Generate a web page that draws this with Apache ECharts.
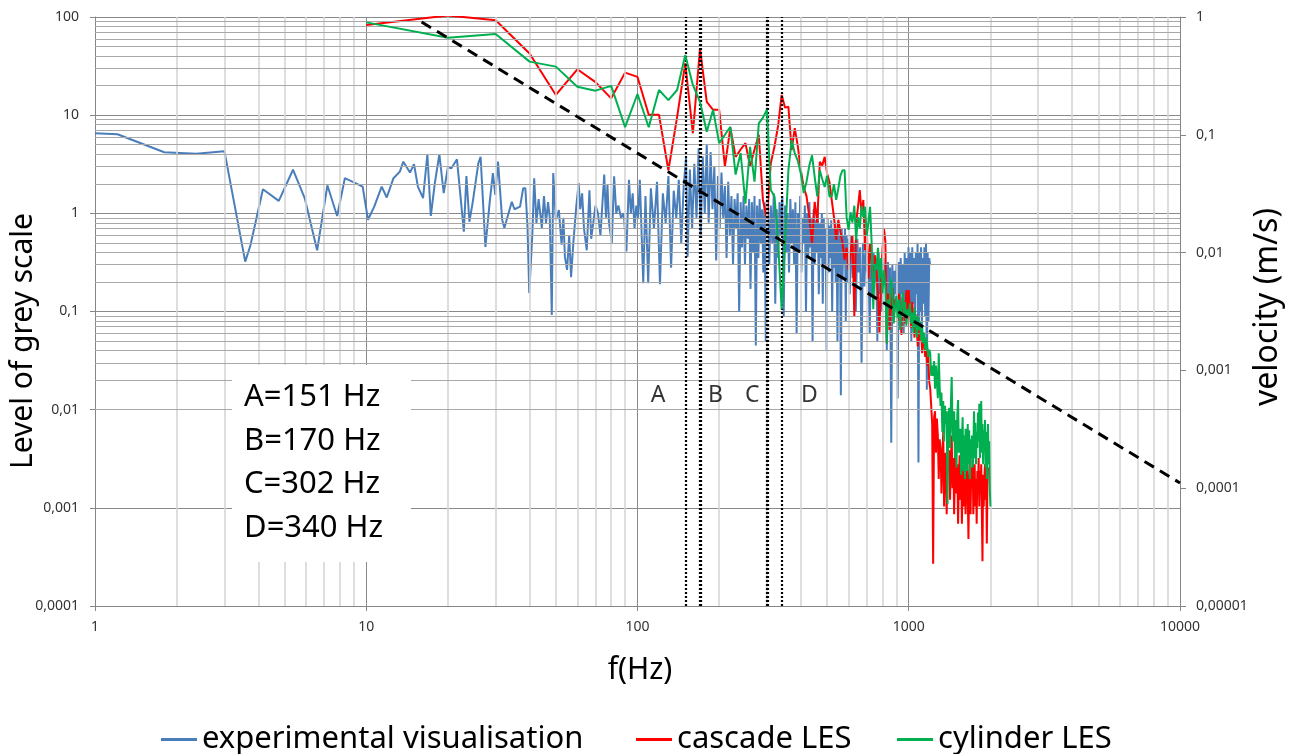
<!DOCTYPE html>
<html>
<head>
<meta charset="utf-8">
<script src="https://cdn.jsdelivr.net/npm/echarts@6/dist/echarts.min.js"></script>
<style>
html, body { margin: 0; padding: 0; background: #fff; }
#main { width: 1295px; height: 754px; }
</style>
</head>
<body>
<div id="main"></div>
<script>
// tick labels (comma decimals, as in the original)
var xTickLabels = ['1', '10', '100', '1000', '10000'];
var leftTickLabels = ['0,0001', '0,001', '0,01', '0,1', '1', '10', '100'];   // 1e-4 .. 1e2
var rightTickLabels = ['0,00001', '0,0001', '0,001', '0,01', '0,1', '1'];    // 1e-5 .. 1e0

var seriesNames = ['experimental visualisation', 'cascade LES', 'cylinder LES'];

// experimental visualisation : [f (Hz), level of grey scale]
var expData = [
    [1, 6.53], [1.21, 6.4], [1.8, 4.19], [2.36, 4.04], [3.0, 4.3], [3.58, 0.322], [3.74, 0.47], [4.16, 1.76],
    [4.76, 1.34], [5.37, 2.78], [5.93, 1.43], [6.59, 0.42], [7.19, 1.93], [7.81, 0.94], [8.34, 2.28], [9.45, 1.94],
    [9.7, 1.87], [10.15, 0.86], [10.7, 1.17], [11.4, 1.87], [11.9, 1.45], [12.6, 2.28], [13.3, 2.66], [13.7, 3.36],
    [14.5, 2.6], [15, 3.17], [15.5, 1.87], [16.2, 1.43], [16.8, 4.0], [17.3, 0.94], [17.9, 2.03], [18.6, 4.0],
    [19.3, 1.61], [20, 2.96], [20.6, 2.88], [21.6, 3.55], [22.9, 0.65], [23.4, 2.4], [24, 0.82], [24.7, 1.31],
    [25.9, 3.24], [26.4, 3.77], [27.5, 0.455], [28.5, 1.28], [29.3, 2.57], [29.9, 1.54], [30.6, 3.36], [31.7, 0.86],
    [32.3, 0.71], [34.4, 1.31], [35.2, 1.1], [36.9, 1.17], [37.9, 1.8], [38.6, 1.8], [39.3, 0.74], [39.9, 0.154],
    [41, 0.65], [41.6, 2.28], [42.4, 0.8], [43.2, 1.4], [44.4, 0.71], [45.2, 1.5], [46, 0.8], [46.8, 1.3],
    [47.5, 0.9], [48.3, 0.092], [48.9, 2.57], [50, 0.85], [51.3, 1.08], [52.5, 0.48], [53.3, 0.9], [54, 0.36],
    [55, 0.265], [56, 0.6], [56.9, 0.224], [58, 0.5], [59.5, 1.2], [60.7, 2.03], [61.5, 1.1], [62.5, 1.6],
    [63.5, 0.7], [65, 0.42], [66.5, 1.72], [67.5, 0.55], [70, 1.2], [71.5, 1.0], [73, 0.6], [75.4, 2.48],
    [76.5, 0.9], [77.5, 1.95], [78.5, 0.8], [80.4, 0.5], [82, 2.38], [83.5, 1.0], [85, 1.2], [87, 0.9],
    [89, 1.0], [91, 0.41], [93, 2.2], [94.5, 1.0], [96, 1.6], [97.5, 0.7], [99, 1.2], [100.5, 0.9],
    [102, 2.2], [105, 0.194], [107, 1.5], [109.5, 0.194],
    [112, 1.8], [115, 0.7], [118, 2.1], [121, 0.19], [124, 1.6], [127, 0.8], [130, 2.4], [133, 0.28],
    [136, 1.7], [139, 0.9], [142, 2.2], [145, 0.5], [148, 1.9], [151, 3.7], [153, 0.36], [156, 2.8],
    [159, 0.7], [162, 3.2], [165, 0.9], [168, 4.6], [171, 0.6], [174, 3.8], [177, 1.0], [180, 5.0],
    [183, 0.8], [186, 4.2], [189, 1.1], [192, 3.0], [195, 0.33], [198, 2.4], [201, 0.7], [204, 2.6],
    [207, 0.9], [210, 1.9], [213, 0.35], [216, 2.1], [219, 0.6], [222, 1.5], [225, 0.3], [228, 1.4],
    [231, 0.7], [234, 1.6], [237, 0.1], [240, 1.3], [243, 0.45], [246, 1.5], [249, 0.3], [252, 1.2],
    [255, 0.55], [258, 1.4], [261, 0.17], [264, 1.3], [267, 0.4], [270, 1.5], [273, 0.045], [276, 1.2],
    [279, 0.35], [282, 1.4], [285, 0.5], [288, 1.1], [291, 0.25], [294, 1.3], [297, 0.05], [300, 1.2],
    [302, 1.4], [306, 0.3], [310, 1.2], [314, 0.5], [318, 1.6], [322, 0.12], [326, 1.1], [330, 0.35], [334, 1.3], [338, 0.6],
    [342, 1.5], [346, 0.09], [350, 1.2], [354, 0.4], [358, 1.0], [362, 0.25], [366, 1.4], [370, 0.5], [374, 1.1], [378, 0.3],
    [382, 1.3], [386, 0.06], [390, 1.0], [394, 0.4], [398, 1.5], [402, 0.25], [406, 0.9], [410, 0.5], [414, 1.2], [418, 0.1],
    [422, 1.0], [426, 0.35], [430, 1.3], [434, 0.45], [438, 0.9], [442, 0.05], [446, 1.1], [450, 0.3], [454, 0.85], [458, 0.4],
    [462, 1.1], [466, 0.15], [470, 0.8], [474, 0.35], [478, 1.0], [482, 0.12], [486, 0.9], [490, 0.3], [494, 0.7], [498, 0.04],
    [502, 0.9], [506, 0.25], [510, 0.75], [514, 0.35], [518, 0.85], [522, 0.1], [526, 0.7], [530, 0.28], [534, 0.8], [538, 0.2],
    [542, 0.65], [546, 0.05], [550, 0.75], [554, 0.25], [558, 0.6], [562, 0.014], [566, 0.7], [570, 0.22], [574, 0.6], [578, 0.3],
    [582, 0.7], [586, 0.08], [590, 0.6], [594, 0.2], [598, 0.55],
    [606, 0.15], [614, 0.6], [622, 0.22], [630, 0.5], [638, 0.1], [646, 0.55], [654, 0.25], [662, 0.45], [670, 0.03], [678, 0.5],
    [686, 0.18], [694, 0.45], [702, 0.25], [710, 0.4], [718, 0.06], [726, 0.45], [734, 0.15], [742, 0.4], [750, 0.2], [758, 0.35],
    [766, 0.05], [774, 0.4], [782, 0.15], [790, 0.3], [798, 0.1], [806, 0.35], [814, 0.2], [822, 0.3], [830, 0.04], [838, 0.32],
    [846, 0.12], [854, 0.28], [862, 0.0046], [870, 0.3], [878, 0.1], [886, 0.26], [894, 0.15], [902, 0.3], [910, 0.013], [918, 0.32],
    [926, 0.1], [934, 0.35], [942, 0.15], [950, 0.3], [958, 0.06], [966, 0.4], [974, 0.12], [982, 0.35], [990, 0.09], [998, 0.45],
    [1006, 0.1], [1014, 0.4], [1022, 0.05], [1030, 0.45], [1038, 0.12], [1046, 0.35], [1054, 0.08], [1062, 0.4], [1070, 0.15], [1078, 0.5],
    [1086, 0.0029], [1094, 0.4], [1102, 0.1], [1110, 0.45], [1118, 0.07], [1126, 0.35], [1134, 0.12], [1142, 0.45], [1150, 0.09], [1158, 0.5],
    [1166, 0.016], [1174, 0.4], [1182, 0.08], [1190, 0.35], [1198, 0.3]
];

// LES spectra are sampled every 10 Hz starting at 10 Hz (velocity in m/s)
var lesStep = 10;
var cascadeVel = [
    0.855, 1.03, 0.94, 0.49, 0.218, 0.36, 0.28, 0.204, 0.337, 0.31,
    0.148, 0.148, 0.05, 0.142, 0.405, 0.103, 0.54, 0.19, 0.163, 0.163,
    0.054, 0.115, 0.065, 0.075, 0.085, 0.054, 0.075, 0.1, 0.028, 0.0196,
    0.057, 0.08, 0.12, 0.218, 0.17, 0.173, 0.074, 0.114, 0.08, 0.05,
    0.036, 0.03, 0.02, 0.012, 0.027, 0.018, 0.059, 0.055, 0.065, 0.047,
    0.04, 0.028, 0.02, 0.0128, 0.019, 0.015, 0.012, 0.0087, 0.011, 0.0071,
    0.0095, 0.014, 0.0029, 0.018, 0.0244, 0.034, 0.021, 0.028, 0.0105, 0.016,
    0.006, 0.012, 0.0085, 0.005, 0.0095, 0.007, 0.0045, 0.0021, 0.006, 0.0105,
    0.016, 0.0125, 0.0017, 0.0045, 0.0022, 0.0035, 0.005, 0.0028, 0.004, 0.0038,
    0.0026, 0.0045, 0.0031, 0.002, 0.0042, 0.0035, 0.0025, 0.0048, 0.003, 0.0048,
    0.0032, 0.0023, 0.0038, 0.0027, 0.0019, 0.003, 0.0022, 0.0016, 0.0025, 0.0018,
    0.0024, 0.0014, 0.002, 0.0017, 0.0013, 0.0015, 0.0011, 0.0013, 0.0008, 0.0007,
    0.0005, 0.00035, 0.0000228, 0.0004, 0.00045, 0.0002, 0.00039, 0.00028, 0.00012, 0.00026,
    0.00022, 0.00009, 0.00018, 0.0003, 0.00007, 0.0002, 0.00016, 0.00006, 0.00025, 0.00014,
    0.00021, 0.00008, 0.00017, 0.00028, 0.0001, 0.00018, 0.00006, 0.00015, 0.00022, 0.00009,
    0.00016, 0.00005, 0.00012, 0.00019, 0.00008, 0.00015, 0.00005, 0.00012, 0.0002, 0.00007,
    0.00013, 0.00006, 0.0001, 0.00017, 0.00009, 0.000037, 0.00011, 0.00018, 0.00006, 0.00015,
    0.0001, 0.0002, 0.00006, 0.00012, 0.00016, 0.00007, 0.00012, 0.00005, 0.00014, 0.00009,
    0.00018, 0.00007, 0.00014, 0.00009, 0.00016, 0.00006, 0.000024, 0.00013, 0.00007, 0.00012,
    0.00016, 0.00008, 0.00013, 0.000034, 0.0001, 0.00015
];
var cylinderVel = [
    0.90, 0.667, 0.717, 0.418, 0.379, 0.256, 0.237, 0.26, 0.116, 0.222,
    0.116, 0.24, 0.197, 0.24, 0.476, 0.265, 0.19, 0.106, 0.163, 0.085,
    0.1, 0.117, 0.046, 0.07, 0.026, 0.079, 0.04, 0.125, 0.14, 0.163,
    0.034, 0.03, 0.012, 0.0033, 0.0128, 0.05, 0.09, 0.07, 0.06, 0.047,
    0.032, 0.04, 0.055, 0.067, 0.044, 0.03, 0.05, 0.042, 0.036, 0.045,
    0.03, 0.03, 0.038, 0.028, 0.035, 0.045, 0.05, 0.05, 0.02, 0.0156,
    0.022, 0.018, 0.025, 0.0128, 0.02, 0.016, 0.025, 0.02, 0.0245, 0.014,
    0.018, 0.0245, 0.012, 0.0033, 0.008, 0.0071, 0.011, 0.006, 0.009, 0.0045,
    0.0071, 0.005, 0.0017, 0.004, 0.0035, 0.006, 0.0045, 0.0025, 0.0035, 0.0043,
    0.0028, 0.004, 0.0022, 0.0035, 0.0046, 0.003, 0.0038, 0.0024, 0.0033, 0.0029,
    0.0037, 0.0025, 0.0031, 0.0021, 0.0034, 0.0027, 0.0019, 0.0029, 0.0022, 0.0026,
    0.0018, 0.0024, 0.0017, 0.0021, 0.0015, 0.0019, 0.0016, 0.0013, 0.0015, 0.0014,
    0.0009, 0.0011, 0.0009, 0.0012, 0.0007, 0.0011, 0.0008, 0.00058, 0.0014, 0.00073,
    0.0005, 0.00065, 0.0003, 0.00055, 0.00025, 0.0005, 0.00035, 0.00045, 0.000073, 0.0004,
    0.00048, 0.00022, 0.00052, 0.00088, 0.0003, 0.00025, 0.00045, 0.00018, 0.00038, 0.00015,
    0.00042, 0.00056, 0.0002, 0.00024, 0.00032, 0.00013, 0.00025, 0.0004, 0.00014, 0.00028,
    0.00012, 0.00032, 0.00026, 0.00014, 0.00035, 0.00016, 0.00031, 0.00012, 0.00026, 0.00018,
    0.00028, 0.00015, 0.0002, 0.00045, 0.00018, 0.00036, 0.00016, 0.0003, 0.00022, 0.00044,
    0.00025, 0.00052, 0.00018, 0.00034, 0.00055, 0.0002, 0.00035, 0.00016, 0.00031, 0.00022,
    0.00038, 0.00015, 0.0003, 0.00012, 0.00027, 0.00035, 0.00016, 0.00025, 0.0001, 0.00007
];

// -5/3 reference slope (left axis units)
var slopeLine = [[16, 89], [10000, 0.00179]];

// marked frequencies
var markNames = ['A', 'B', 'C', 'D'];
var markFreqs = [151, 170, 302, 340];
var markLabelFreqs = [119, 194, 265, 430];
var markLabelLevel = 0.0141;

var boxLines = ['A=151 Hz', 'B=170 Hz', 'C=302 Hz', 'D=340 Hz'];

var FONT = '"Noto Sans", "Open Sans", sans-serif';
var seriesColors = ['#4a7ebb', '#ff0000', '#00b050'];

function pairUp(values) {
    return values.map(function (v, i) { return [lesStep * (i + 1), v]; });
}
function expIndex(v) { return Math.round(Math.log(v) / Math.LN10); }

// minor grid (2..9 x each decade)
var minorX = [], minorY = [];
for (var e = 0; e < 4; e++) {
    for (var m = 2; m <= 9; m++) minorX.push({ xAxis: m * Math.pow(10, e) });
}
for (var e2 = -4; e2 < 2; e2++) {
    for (var m2 = 2; m2 <= 9; m2++) minorY.push({ yAxis: m2 * Math.pow(10, e2) });
}

// one legend per item so each can sit where the original puts it
var legendLefts = [156, 631, 892];
var legends = seriesNames.map(function (n, i) {
    return {
        data: [n],
        left: legendLefts[i],
        top: 719,
        icon: 'rect',
        itemWidth: 36,
        itemHeight: 3,
        selectedMode: false,
        textStyle: { fontSize: 31, color: '#000', fontFamily: FONT }
    };
});

var myChart = echarts.init(document.getElementById('main'));

var option = {
    animation: false,
    backgroundColor: '#fff',
    textStyle: { fontFamily: FONT },
    grid: { left: 95, right: 115, top: 17, bottom: 148 },
    legend: legends,
    xAxis: {
        type: 'log',
        logBase: 10,
        min: 1,
        max: 10000,
        splitNumber: 4,
        axisLine: { show: true, lineStyle: { color: '#868686' } },
        axisTick: { show: true, length: 5, lineStyle: { color: '#868686' } },
        axisLabel: {
            margin: 14, fontSize: 14, color: '#333', fontFamily: FONT,
            formatter: function (v) { return xTickLabels[expIndex(v)]; }
        },
        splitLine: { show: true, lineStyle: { color: '#8a8a8a', width: 1 } },
        minorTick: { show: false },
        minorSplitLine: { show: false }
    },
    yAxis: [{
        type: 'log',
        logBase: 10,
        min: 0.0001,
        max: 100,
        splitNumber: 6,
        position: 'left',
        axisLine: { show: true, lineStyle: { color: '#868686' } },
        axisTick: { show: true, length: 5, lineStyle: { color: '#868686' } },
        axisLabel: {
            margin: 16, fontSize: 14, color: '#333', fontFamily: FONT,
            formatter: function (v) { return leftTickLabels[expIndex(v) + 4]; }
        },
        splitLine: { show: true, lineStyle: { color: '#8a8a8a', width: 1 } }
    }, {
        type: 'log',
        logBase: 10,
        min: 0.00001,
        max: 1,
        splitNumber: 5,
        position: 'right',
        axisLine: { show: true, lineStyle: { color: '#868686' } },
        axisTick: { show: true, length: 6, lineStyle: { color: '#868686' } },
        axisLabel: {
            margin: 16, fontSize: 14, color: '#333', fontFamily: FONT,
            formatter: function (v) { return rightTickLabels[expIndex(v) + 5]; }
        },
        splitLine: { show: false }
    }],
    series: [
        {
            // minor grid lines
            name: 'minorGrid',
            type: 'line',
            data: [],
            z: 1,
            silent: true,
            markLine: {
                silent: true,
                symbol: ['none', 'none'],
                label: { show: false },
                animation: false,
                data: minorX.map(function (d) {
                    return Object.assign({ lineStyle: { color: '#d6d6d6', width: 1.6, type: 'solid' } }, d);
                }).concat(minorY.map(function (d) {
                    return Object.assign({ lineStyle: { color: '#a8a8a8', width: 1, type: 'solid' } }, d);
                }))
            }
        },
        {
            name: seriesNames[0],
            type: 'line',
            yAxisIndex: 0,
            data: expData,
            showSymbol: false,
            z: 3,
            lineStyle: { color: seriesColors[0], width: 2 },
            itemStyle: { color: seriesColors[0] }
        },
        {
            name: seriesNames[1],
            type: 'line',
            yAxisIndex: 1,
            data: pairUp(cascadeVel),
            showSymbol: false,
            z: 4,
            lineStyle: { color: seriesColors[1], width: 2 },
            itemStyle: { color: seriesColors[1] }
        },
        {
            name: seriesNames[2],
            type: 'line',
            yAxisIndex: 1,
            data: pairUp(cylinderVel),
            showSymbol: false,
            z: 5,
            lineStyle: { color: seriesColors[2], width: 2 },
            itemStyle: { color: seriesColors[2] }
        },
        {
            name: 'slope',
            type: 'line',
            yAxisIndex: 0,
            data: slopeLine,
            showSymbol: false,
            silent: true,
            z: 6,
            lineStyle: { color: '#000', width: 3, type: [11, 7] },
            markLine: {
                silent: true,
                symbol: ['none', 'none'],
                label: { show: false },
                animation: false,
                data: markFreqs.map(function (f, i) {
                    return {
                        xAxis: f,
                        lineStyle: { color: '#000', width: (i === 1 || i === 2) ? 3.2 : 2.2, type: [2, 2] }
                    };
                })
            }
        },
        {
            name: 'markLabels',
            type: 'scatter',
            yAxisIndex: 0,
            symbolSize: 0,
            silent: true,
            z: 7,
            data: markNames.map(function (n, i) { return { name: n, value: [markLabelFreqs[i], markLabelLevel] }; }),
            label: {
                show: true, position: 'inside', formatter: '{b}',
                fontSize: 23, color: '#000', fontFamily: FONT
            }
        }
    ],
    graphic: [
        {
            type: 'rect', z: 20, silent: true,
            shape: { x: 232, y: 365, width: 179, height: 197 },
            style: { fill: '#fff' }
        }
    ].concat(boxLines.map(function (t, i) {
        return {
            type: 'text', z: 21, silent: true,
            x: 244, y: 397 + i * 43.7,
            style: { text: t, font: '31px ' + FONT, fill: '#000', textVerticalAlign: 'middle' }
        };
    })).concat([
        {
            type: 'text', z: 21, silent: true,
            x: 23, y: 341, rotation: Math.PI / 2,
            style: { text: 'Level of grey scale', font: '30px ' + FONT, fill: '#000', textAlign: 'center', textVerticalAlign: 'middle' }
        },
        {
            type: 'text', z: 21, silent: true,
            x: 1268, y: 307, rotation: Math.PI / 2,
            style: { text: 'velocity (m/s)', font: '32px ' + FONT, fill: '#000', textAlign: 'center', textVerticalAlign: 'middle' }
        },
        {
            type: 'text', z: 21, silent: true,
            x: 640, y: 670,
            style: { text: 'f(Hz)', font: '30px ' + FONT, fill: '#000', textAlign: 'center', textVerticalAlign: 'middle' }
        }
    ])
};

myChart.setOption(option);
</script>
</body>
</html>
